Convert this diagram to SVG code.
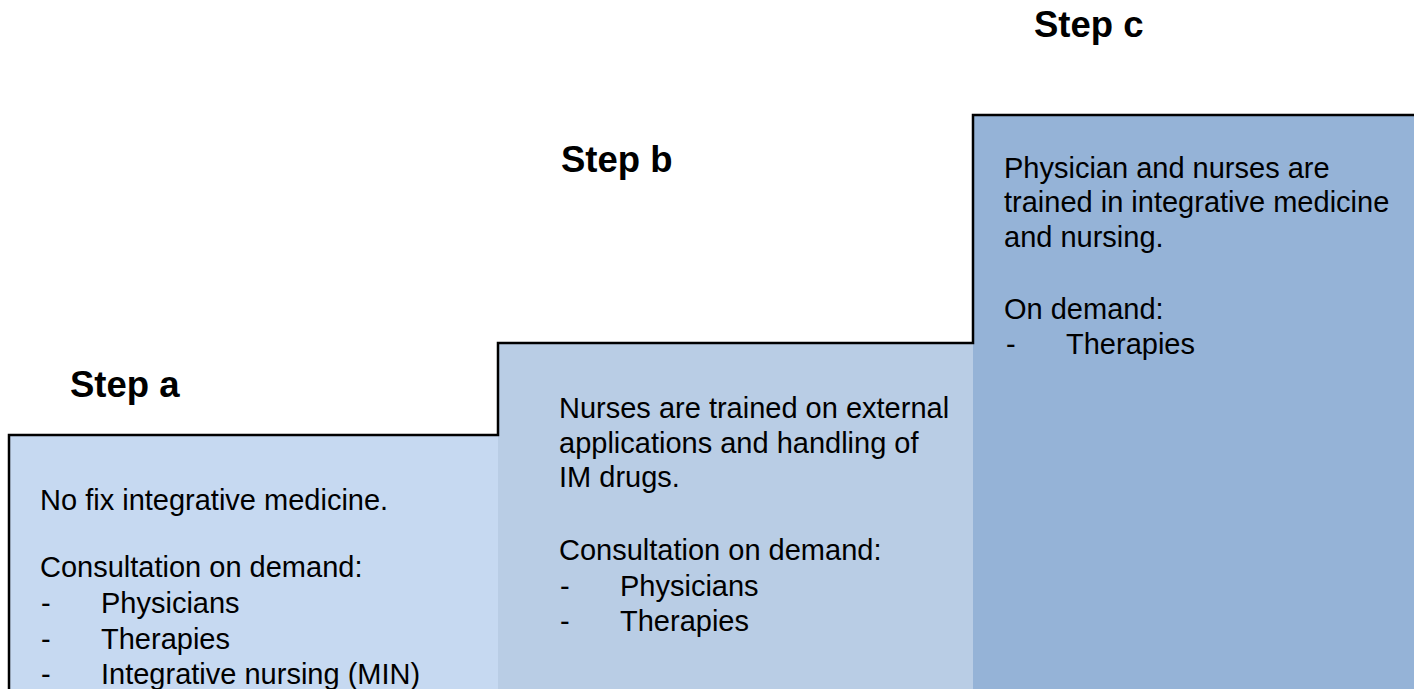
<svg xmlns="http://www.w3.org/2000/svg" width="1414" height="689" viewBox="0 0 1414 689">
<style>
.t{font-family:"Liberation Sans",Arial,sans-serif;font-size:29px;fill:#000}
.h{font-family:"Liberation Sans",Arial,sans-serif;font-size:36.5px;font-weight:bold;fill:#000}
.edge{fill:none;stroke:#000;stroke-width:2.5}
</style>
<rect width="1414" height="689" fill="#fff"/>
<g id="step-a">
<rect x="9" y="435" width="489" height="254" fill="#C6D9F1"/>
<text class="h" x="70" y="397">Step a</text>
<text class="t" x="40" y="510">No fix integrative medicine.</text>
<text class="t" x="40" y="577">Consultation on demand:</text>
<text class="t" x="41" y="613">-</text><text class="t" x="101" y="613">Physicians</text>
<text class="t" x="41" y="649">-</text><text class="t" x="101" y="649">Therapies</text>
<text class="t" x="41" y="684">-</text><text class="t" x="101" y="684">Integrative nursing (MIN)</text>
</g>
<g id="step-b">
<rect x="498" y="343" width="475" height="346" fill="#B9CDE5"/>
<text class="h" x="561" y="172">Step b</text>
<text class="t" x="559" y="418">Nurses are trained on external</text>
<text class="t" x="559" y="453">applications and handling of</text>
<text class="t" x="559" y="487">IM drugs.</text>
<text class="t" x="559" y="560">Consultation on demand:</text>
<text class="t" x="560" y="596">-</text><text class="t" x="620" y="596">Physicians</text>
<text class="t" x="560" y="631">-</text><text class="t" x="620" y="631">Therapies</text>
</g>
<g id="step-c">
<rect x="973" y="115" width="441" height="574" fill="#95B3D7"/>
<text class="h" x="1034" y="37">Step c</text>
<text class="t" x="1004" y="178">Physician and nurses are</text>
<text class="t" x="1004" y="212">trained in integrative medicine</text>
<text class="t" x="1004" y="247">and nursing.</text>
<text class="t" x="1004" y="319">On demand:</text>
<text class="t" x="1006" y="354">-</text><text class="t" x="1066" y="354">Therapies</text>
</g>
<g id="connectors">
<path class="edge" d="M9,689 V435 H498 V343 H973 V115 H1414"/>
</g>
</svg>
